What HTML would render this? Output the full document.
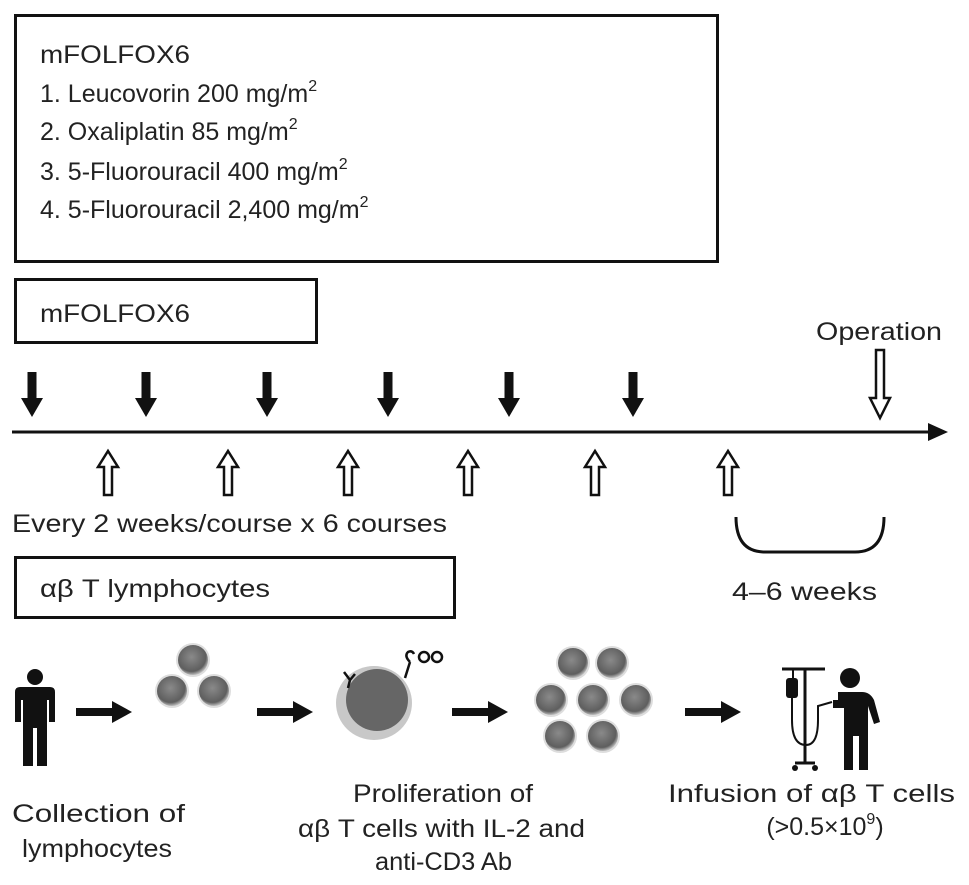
<!DOCTYPE html>
<html><head><meta charset="utf-8"><style>
html,body{margin:0;padding:0;background:#fff;}
svg{display:block;}
text{font-family:"Liberation Sans",Arial,sans-serif;fill:#222;font-size:25px;}
</style></head><body>
<svg width="969" height="885" viewBox="0 0 969 885" xmlns="http://www.w3.org/2000/svg">
<defs>
<radialGradient id="cg" cx="45%" cy="40%" r="60%">
<stop offset="0" stop-color="#8a8a8a"/><stop offset="0.8" stop-color="#5e5e5e"/><stop offset="1" stop-color="#bdbdbd"/>
</radialGradient>
<g id="down"><rect x="-4.5" y="0" width="9" height="28" fill="#111"/><polygon points="-11,26 11,26 0,45" fill="#111"/></g>
<g id="up"><polygon points="-4,45 4,45 4,17 10,17 0,1 -10,17 -4,17" fill="#fff" stroke="#111" stroke-width="2.5"/></g>
<g id="cell"><circle r="17" fill="#ddd"/><circle r="15" fill="url(#cg)"/></g>
<g id="rarr"><rect x="0" y="-4" width="38" height="8" fill="#111"/><polygon points="36,-11 56,0 36,11" fill="#111"/></g>
</defs>
<rect x="15.5" y="15.5" width="702" height="246" fill="none" stroke="#111" stroke-width="3"/>
<text x="40" y="63" textLength="150" lengthAdjust="spacingAndGlyphs">mFOLFOX6</text>
<text x="40" y="102">1. Leucovorin 200 mg/m<tspan font-size="16" dy="-11">2</tspan></text>
<text x="40" y="140">2. Oxaliplatin 85 mg/m<tspan font-size="16" dy="-11">2</tspan></text>
<text x="40" y="180">3. 5-Fluorouracil 400 mg/m<tspan font-size="16" dy="-11">2</tspan></text>
<text x="40" y="218">4. 5-Fluorouracil 2,400 mg/m<tspan font-size="16" dy="-11">2</tspan></text>
<rect x="15.5" y="279.5" width="301" height="63" fill="none" stroke="#111" stroke-width="3"/>
<text x="40" y="322" textLength="150" lengthAdjust="spacingAndGlyphs">mFOLFOX6</text>
<text x="816" y="340" textLength="126" lengthAdjust="spacingAndGlyphs">Operation</text>
<use href="#down" x="32" y="372"/><use href="#down" x="146" y="372"/><use href="#down" x="267" y="372"/>
<use href="#down" x="388" y="372"/><use href="#down" x="509" y="372"/><use href="#down" x="633" y="372"/>
<polygon points="876,350 884,350 884,398 890,398 880,418 870,398 876,398" fill="#fff" stroke="#111" stroke-width="2.5"/>
<line x1="12" y1="432" x2="932" y2="432" stroke="#111" stroke-width="3"/>
<polygon points="928,423 948,432 928,441" fill="#111"/>
<use href="#up" x="108" y="450"/><use href="#up" x="228" y="450"/><use href="#up" x="348" y="450"/>
<use href="#up" x="468" y="450"/><use href="#up" x="595" y="450"/><use href="#up" x="728" y="450"/>
<text x="12" y="532" textLength="435" lengthAdjust="spacingAndGlyphs">Every 2 weeks/course x 6 courses</text>
<path d="M736,517 Q736,552 765,552 L855,552 Q884,552 884,517" fill="none" stroke="#111" stroke-width="3"/>
<text x="732" y="600" textLength="145" lengthAdjust="spacingAndGlyphs">4–6 weeks</text>
<rect x="15.5" y="557.5" width="439" height="60" fill="none" stroke="#111" stroke-width="3"/>
<text x="40" y="597" textLength="230" lengthAdjust="spacingAndGlyphs">αβ T lymphocytes</text>
<circle cx="35" cy="677" r="8" fill="#111"/>
<path d="M20,687 L50,687 Q55,687 55,692 L55,722 L49,722 L49,700 L47,700 L47,766 L37,766 L37,728 L33,728 L33,766 L23,766 L23,700 L21,700 L21,722 L15,722 L15,692 Q15,687 20,687Z" fill="#111"/>
<use href="#rarr" x="76" y="712"/>
<use href="#cell" x="193" y="660"/><use href="#cell" x="172" y="691"/><use href="#cell" x="214" y="691"/>
<use href="#rarr" x="257" y="712"/>
<ellipse cx="374" cy="703" rx="38" ry="37" fill="#c8c8c8"/>
<circle cx="377" cy="700" r="31" fill="#666"/>
<path d="M344,672 L350,680 L355,674 M350,680 L348,688" stroke="#111" stroke-width="2.5" fill="none"/>
<path d="M405,678 L410,662 M410,662 q-6,-6 -2,-10 q4,-2 6,2" stroke="#111" stroke-width="2.5" fill="none"/>
<circle cx="424" cy="657" r="5" fill="none" stroke="#111" stroke-width="2.5"/>
<circle cx="437" cy="657" r="5" fill="none" stroke="#111" stroke-width="2.5"/>
<use href="#rarr" x="452" y="712"/>
<use href="#cell" x="573" y="663"/><use href="#cell" x="612" y="663"/>
<use href="#cell" x="551" y="700"/><use href="#cell" x="593" y="700"/><use href="#cell" x="636" y="700"/>
<use href="#cell" x="560" y="736"/><use href="#cell" x="603" y="736"/>
<use href="#rarr" x="685" y="712"/>
<line x1="782" y1="669" x2="825" y2="669" stroke="#111" stroke-width="3"/>
<line x1="805" y1="669" x2="805" y2="762" stroke="#111" stroke-width="3"/>
<line x1="793" y1="669" x2="793" y2="678" stroke="#111" stroke-width="2"/>
<rect x="786" y="678" width="12" height="20" rx="3" fill="#111"/>
<path d="M792,698 L792,720 Q792,745 806,745 Q818,745 818,720 L818,706 L832,702" fill="none" stroke="#111" stroke-width="2"/>
<line x1="795" y1="763" x2="815" y2="763" stroke="#111" stroke-width="3"/>
<circle cx="795" cy="768" r="3" fill="#111"/><circle cx="815" cy="768" r="3" fill="#111"/>
<circle cx="850" cy="678" r="10" fill="#111"/>
<path d="M838,692 L862,692 Q870,692 874,700 L880,722 L874,724 L868,706 L868,770 L859,770 L859,736 L853,736 L853,770 L844,770 L844,708 L833,708 L833,700 L838,700Z" fill="#111"/>
<text x="12" y="822" textLength="173" lengthAdjust="spacingAndGlyphs">Collection of</text>
<text x="22" y="857" textLength="150" lengthAdjust="spacingAndGlyphs">lymphocytes</text>
<text x="353" y="802" textLength="180" lengthAdjust="spacingAndGlyphs">Proliferation of</text>
<text x="298" y="837" textLength="287" lengthAdjust="spacingAndGlyphs">αβ T cells with IL-2 and</text>
<text x="375" y="870" textLength="137" lengthAdjust="spacingAndGlyphs">anti-CD3 Ab</text>
<text x="668" y="802" textLength="287" lengthAdjust="spacingAndGlyphs">Infusion of αβ T cells</text>
<text x="825" y="835" text-anchor="middle">(&gt;0.5×10<tspan font-size="16" dy="-11">9</tspan><tspan dy="11">)</tspan></text>
</svg>
</body></html>
